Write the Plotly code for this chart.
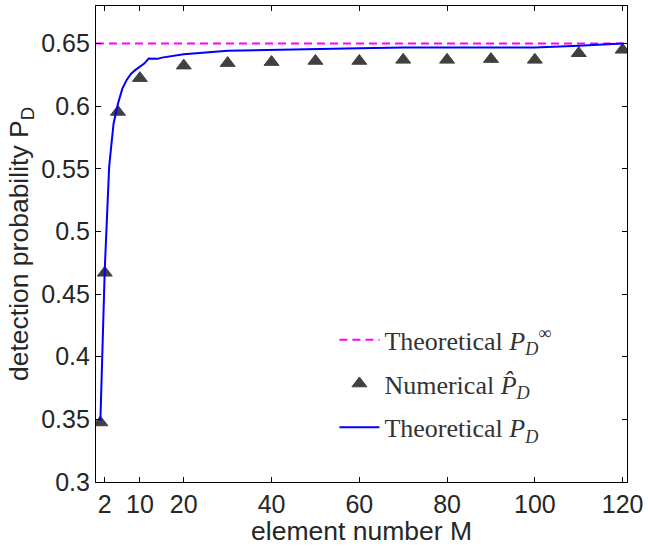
import plotly.graph_objects as go

# ---- data ----
M_num = [1, 2, 5, 10, 20, 30, 40, 50, 60, 70, 80, 90, 100, 110, 120]
PD_num = [0.3475, 0.467, 0.5954, 0.6224, 0.6324, 0.6344, 0.6352, 0.6361, 0.6361,
          0.6370, 0.6370, 0.6376, 0.6370, 0.6423, 0.6450]

M_theo = [1, 2, 3, 4, 5, 6, 7, 8, 9, 10, 11, 12, 13, 14, 15, 20, 30, 45, 60, 70,
          100, 110, 120]
PD_theo = [0.349, 0.470, 0.552, 0.586, 0.602, 0.614, 0.621, 0.626, 0.629, 0.6315,
           0.634, 0.638, 0.638, 0.6378, 0.6388, 0.6415, 0.6442, 0.6455, 0.6463,
           0.6468, 0.6468, 0.6482, 0.650]

PD_inf = 0.65
M_span = [0, 121]

x_ticks = [2, 10, 20, 40, 60, 80, 100, 120]
y_ticks = [0.3, 0.35, 0.4, 0.45, 0.5, 0.55, 0.6, 0.65]
y_ticktext = ["0.3", "0.35", "0.4", "0.45", "0.5", "0.55", "0.6", "0.65"]

TXT = "#262626"
SANS = "Liberation Sans, Arial, Helvetica, sans-serif"
SERIF = "Liberation Serif, Times New Roman, serif"

fig = go.Figure()
fig.add_trace(go.Scatter(
    x=M_span, y=[PD_inf] * len(M_span), mode="lines",
    line=dict(color="#ff00ff", width=2, dash="8px,5px"),
    name="Theoretical <i>P</i><sub><i>D</i></sub><sup>\u221e</sup>",
    legendgroup="a",
))
fig.add_trace(go.Scatter(
    x=M_num, y=PD_num, mode="markers",
    marker=dict(symbol="triangle-up", size=13, color="#404040",
                line=dict(color="#404040", width=1)),
    name="Numerical <i>P\u0302</i><sub><i>D</i></sub>",
    legendgroup="b",
))
fig.add_trace(go.Scatter(
    x=M_theo, y=PD_theo, mode="lines",
    line=dict(color="#0000ff", width=2),
    name="Theoretical <i>P</i><sub><i>D</i></sub>",
    legendgroup="c",
))

fig.update_layout(
    width=648, height=546,
    margin=dict(l=96, r=20, t=5, b=63),
    paper_bgcolor="white", plot_bgcolor="white",
    showlegend=True,
    legend=dict(
        x=0.449, xanchor="left", y=0.348, yanchor="top",
        font=dict(family=SERIF, size=26, color="#333333"),
        bgcolor="rgba(0,0,0,0)", itemwidth=40, tracegroupgap=7,
        traceorder="grouped",
    ),
)
fig.update_xaxes(
    range=M_span, tickmode="array", tickvals=x_ticks,
    ticks="inside", ticklen=5, tickwidth=1, tickcolor="black",
    showline=True, linecolor="black", linewidth=1.2, mirror="allticks",
    showgrid=False, zeroline=False,
    tickfont=dict(family=SANS, size=25, color=TXT),
    title=dict(text="element number M", font=dict(family=SANS, size=26.5, color=TXT),
               standoff=4),
)
fig.update_yaxes(
    range=[0.3, 0.68], tickmode="array", tickvals=y_ticks, ticktext=y_ticktext,
    ticks="inside", ticklen=5, tickwidth=1, tickcolor="black",
    showline=True, linecolor="black", linewidth=1.2, mirror="allticks",
    showgrid=False, zeroline=False,
    tickfont=dict(family=SANS, size=25, color=TXT),
    title=dict(text="detection probability P<sub>D</sub>",
               font=dict(family=SANS, size=26.5, color=TXT), standoff=4),
)

fig.write_html("out.html")
